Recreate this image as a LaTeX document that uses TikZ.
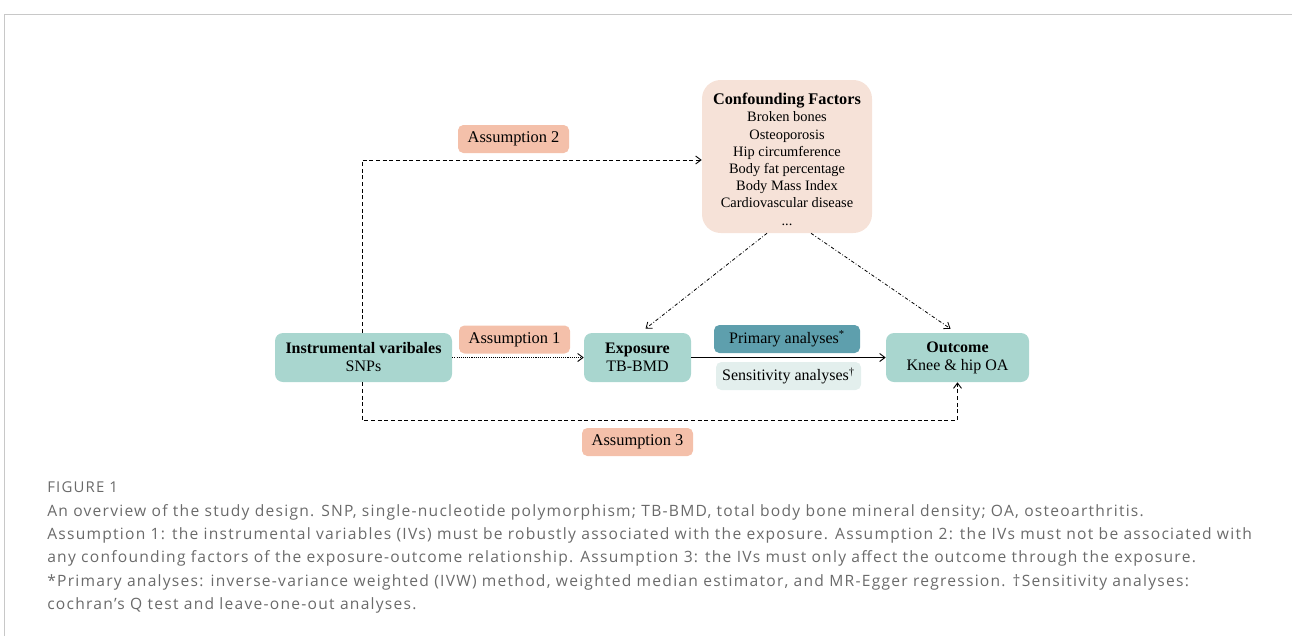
\documentclass[tikz,border=0pt]{standalone}
\usepackage{fontspec}
\setmainfont{Liberation Serif}
\newfontfamily\capfont[LetterSpace=8]{Open Sans}
\usetikzlibrary{arrows.meta,calc}
\definecolor{tealbox}{HTML}{A9D6CF}
\definecolor{salmon}{HTML}{F4C0AA}
\definecolor{primbox}{HTML}{5E9FAD}
\definecolor{sensbox}{HTML}{E3EFED}
\definecolor{confbox}{HTML}{F6E2D8}
\definecolor{frame}{HTML}{C8C8C8}
\definecolor{captxt}{HTML}{6A6A6A}
\tikzset{
  mainbox/.style={fill=tealbox, rounded corners=6pt, inner sep=0pt, minimum height=36.75pt, align=center, font=\fontsize{12}{13.5}\selectfont},
  asbox/.style={fill=salmon, rounded corners=4pt, inner sep=0pt, minimum width=83.25pt, minimum height=21pt, font=\fontsize{12.3}{13.5}\selectfont},
  anbox/.style={rounded corners=4pt, inner sep=0pt, minimum height=21pt, font=\fontsize{12}{13.5}\selectfont},
  conn/.style={line width=0.7pt, -{Straight Barb[length=4pt,width=6pt]}},
  dashconn/.style={conn, dash pattern=on 3pt off 2pt},
  dotconn/.style={conn, dash pattern=on 0.8pt off 0.8pt},
  dashdot/.style={conn, line width=0.6pt, dash pattern=on 2.5pt off 1.5pt on 0.6pt off 1.5pt},
  caption/.style={anchor=west, inner sep=0pt, text=captxt, font=\capfont\fontsize{11.7}{13}\selectfont},
}
\begin{document}
\begin{tikzpicture}[x=0.75pt,y=-0.75pt]
\useasboundingbox (0,0) rectangle (1292,636);
% frame
\draw[frame, line width=0.8pt] (4.5,636) -- (4.5,14.5) -- (1292,14.5);

% nodes
\node[mainbox, minimum width=132.75pt] (iv) at (363.5,357.5) {\textbf{Instrumental varibales}\\SNPs};
\node[mainbox, minimum width=80.25pt] (exp) at (637.5,357.5) {\textbf{Exposure}\\TB-BMD};
\node[mainbox, minimum width=107.25pt] (out) at (957.5,357.5) {\textbf{Outcome}\\Knee \& hip OA};
\node[fill=confbox, rounded corners=14pt, inner sep=0pt, minimum width=127.5pt, minimum height=114.75pt] (conf) at (787,156.5) {};
\node[align=center, inner sep=0pt, anchor=north, font=\fontsize{10.8}{12.9}\selectfont] (conftxt) at (787,93) {{\fontsize{12.2}{13}\selectfont\textbf{Confounding Factors}}\\Broken bones\\Osteoporosis\\Hip circumference\\Body fat percentage\\Body Mass Index\\Cardiovascular disease\\...};
\node[asbox] (a1) at (514.5,339.5) {Assumption 1};
\node[asbox] (a2) at (513.5,139) {Assumption 2};
\node[asbox] (a3) at (637.5,442) {Assumption 3};
\node[anbox, fill=primbox, minimum width=109.5pt] (prim) at (787,339) {Primary analyses\textsuperscript{*}};
\node[anbox, fill=sensbox, minimum width=108.75pt] (sens) at (788.5,376) {Sensitivity analyses\textsuperscript{†}};

% connectors
\coordinate (ctop) at (362,160);
\coordinate (cbot) at (362,420);
\draw[dashconn] (iv.north -| ctop) -- (ctop) -- (conf.west |- ctop);
\draw[dashconn] (iv.south -| cbot) -- (cbot) -| (out.south);
\draw[dotconn] (iv.east) -- (exp.west);
\draw[conn] (exp.east) -- (out.west);
\draw[dashdot] ($(conf.south)+(-20,0)$) -- ($(exp.north)+(8,-4)$);
\draw[dashdot] ($(conf.south)+(24,0)$) -- ($(out.north)+(-7,-4)$);

% caption
\node[caption, font=\capfont\fontsize{11.2}{12}\selectfont] (fig) at (47,487) {FIGURE 1};
\node[caption] (l1) at (47,512) {An overview of the study design. SNP, single-nucleotide polymorphism; TB-BMD, total body bone mineral density; OA, osteoarthritis.};
\node[caption] (l2) at (47,535) {Assumption 1: the instrumental variables (IVs) must be robustly associated with the exposure. Assumption 2: the IVs must not be associated with};
\node[caption] (l3) at (47,558) {any confounding factors of the exposure-outcome relationship. Assumption 3: the IVs must only affect the outcome through the exposure.};
\node[caption] (l4) at (47,582) {*Primary analyses: inverse-variance weighted (IVW) method, weighted median estimator, and MR-Egger regression. †Sensitivity analyses:};
\node[caption] (l5) at (47,605) {cochran’s Q test and leave-one-out analyses.};
\end{tikzpicture}
\end{document}
